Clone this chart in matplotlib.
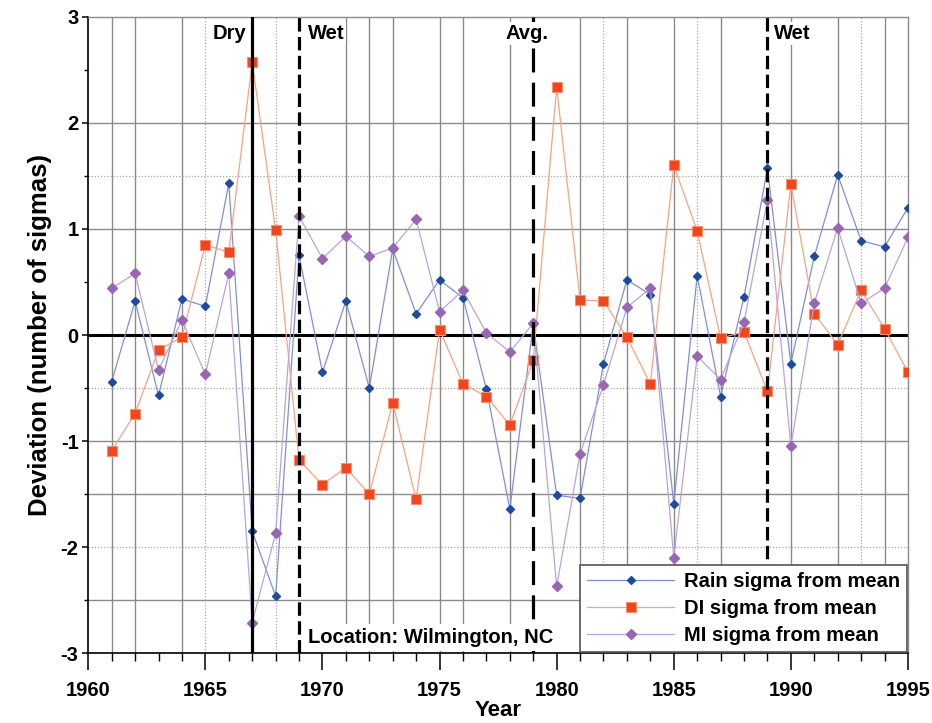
import matplotlib
matplotlib.use("Agg")
import matplotlib.pyplot as plt
import numpy as np

plt.rcParams['font.family'] = ['Liberation Sans', 'DejaVu Sans']
plt.rcParams['font.weight'] = 'bold'
plt.rcParams['axes.unicode_minus'] = False

years = list(range(1961, 1996))
rain = [-0.44, 0.32, -0.57, 0.34, 0.27, 1.43, -1.85, -2.46, 0.75, -0.35,
        0.32, -0.50, 0.81, 0.20, 0.52, 0.35, -0.51, -1.64, 0.10, -1.51,
        -1.54, -0.27, 0.52, 0.38, -1.59, 0.56, -0.58, 0.36, 1.57, -0.27,
        0.74, 1.51, 0.89, 0.83, 1.20]
di = [-1.09, -0.74, -0.14, -0.02, 0.85, 0.78, 2.57, 0.99, -1.18, -1.41,
      -1.25, -1.50, -0.64, -1.55, 0.05, -0.46, -0.58, -0.85, -0.24, 2.34,
      0.33, 0.32, -0.02, -0.46, 1.60, 0.98, -0.03, 0.03, -0.53, 1.42,
      0.20, -0.09, 0.42, 0.06, -0.35]
mi = [0.44, 0.58, -0.33, 0.14, -0.37, 0.58, -2.71, -1.87, 1.12, 0.72,
      0.93, 0.74, 0.82, 1.09, 0.22, 0.42, 0.02, -0.16, 0.11, -2.37,
      -1.12, -0.47, 0.26, 0.44, -2.10, -0.20, -0.42, 0.12, 1.27, -1.05,
      0.30, 1.01, 0.30, 0.44, 0.92]
series_labels = ["Rain sigma from mean", "DI sigma from mean", "MI sigma from mean"]

solid_vgrid = [1961, 1962, 1964, 1971, 1972, 1973, 1975, 1976, 1978, 1981,
               1983, 1985, 1987, 1990, 1992, 1994]
dotted_vgrid = [1965, 1968, 1982, 1986, 1993]
solid_hgrid = [2, 1, -1, -1.5, -2.5]
dotted_hgrid = [1.5, -0.5, -2]

dry_year = 1967
wet_years = [1969, 1989]
avg_year = 1979

FS = 14.5

fig = plt.figure(figsize=(9.32, 7.23), dpi=100)
ax = fig.add_axes([0.0947, 0.0964, 0.8795, 0.8805])
ax.set_xlim(1960, 1995)
ax.set_ylim(-3, 3)

grid_col = '#8a8a8a'
for yv in solid_hgrid:
    ax.axhline(yv, color=grid_col, lw=1.0, zorder=1)
for yv in dotted_hgrid:
    ax.axhline(yv, color='#a8a8a8', lw=0.9, ls=(0, (1, 1.5)), zorder=1)
for xv in solid_vgrid:
    ax.axvline(xv, color=grid_col, lw=1.0, zorder=1)
for xv in dotted_vgrid:
    ax.axvline(xv, color='#a8a8a8', lw=0.9, ls=(0, (1, 1.5)), zorder=1)

ax.axhline(0, color='black', lw=2.2, zorder=2)

l1, = ax.plot(years, rain, color='#7f8fd8', lw=0.9, marker='D', ms=4.4,
              mfc='#1d4c9e', mec='#1d4c9e', zorder=3, label=series_labels[0])
l2, = ax.plot(years, di, color='#f9a27f', lw=0.9, marker='s', ms=6.6,
              mfc='#f2441d', mec='#f8906a', mew=0.8, zorder=3, label=series_labels[1])
l3, = ax.plot(years, mi, color='#bba3da', lw=0.9, marker='D', ms=4.9,
              mfc='#9966b4', mec='#9966b4', zorder=3, label=series_labels[2])

ax.axvline(dry_year, color='black', lw=2.3, zorder=4)
for wy in wet_years:
    ax.axvline(wy, color='black', lw=2.3, ls=(0, (4.2, 1.7)), zorder=4)
ax.axvline(avg_year, color='black', lw=2.3, ls=(0, (7.5, 3.2)), zorder=4)

tb = dict(facecolor='white', edgecolor='none', pad=1.5)
ax.annotate("Dry", xy=(dry_year, 1), xycoords=('data', 'axes fraction'),
            xytext=(-4.5, -5.5), textcoords='offset points', ha='right', va='top',
            fontsize=FS, fontweight='bold', zorder=5)
for wy, dx in zip(wet_years, [6.3, 4.5]):
    ax.annotate("Wet", xy=(wy, 1), xycoords=('data', 'axes fraction'),
                xytext=(dx, -5.5), textcoords='offset points', ha='left', va='top',
                fontsize=FS, fontweight='bold', bbox=tb, zorder=5)
ax.annotate("Avg.", xy=(avg_year, 1), xycoords=('data', 'axes fraction'),
            xytext=(-4.5, -5.5), textcoords='offset points', ha='center', va='top',
            fontsize=FS, fontweight='bold', bbox=tb, zorder=5)
ax.annotate("Location: Wilmington, NC", xy=(wet_years[0], 0), xycoords=('data', 'axes fraction'),
            xytext=(6.3, 7.4), textcoords='offset points', ha='left', va='baseline',
            fontsize=FS, fontweight='bold',
            bbox=dict(facecolor='white', edgecolor='none', pad=3), zorder=5)

ax.set_xticks(range(1960, 1996, 5))
ax.set_xticks(range(1960, 1996), minor=True)
ax.set_yticks(range(-3, 4))
ax.set_yticks(np.arange(-3, 3.01, 0.5), minor=True)
ax.tick_params(axis='x', which='major', direction='out', length=12, width=1.1, pad=8, labelsize=FS)
ax.tick_params(axis='x', which='minor', direction='out', length=6, width=1.0)
ax.tick_params(axis='y', which='major', direction='out', length=4, width=1.1, pad=3, labelsize=FS)
ax.tick_params(axis='y', which='minor', direction='out', length=3, width=1.0)
for lab in ax.get_xticklabels() + ax.get_yticklabels():
    lab.set_fontweight('bold')

for s in ['left', 'bottom']:
    ax.spines[s].set_color('black')
    ax.spines[s].set_linewidth(1.2)
for s in ['top', 'right']:
    ax.spines[s].set_color('#8a8a8a')
    ax.spines[s].set_linewidth(1.0)

ax.set_xlabel("Year", fontsize=16, fontweight='bold', labelpad=0)
ax.set_ylabel("Deviation (number of sigmas)", fontsize=18.5, fontweight='bold', labelpad=6)

leg = ax.legend(handles=[l1, l2, l3], loc='lower right', bbox_to_anchor=(0.999, 0.002),
                borderaxespad=0, fancybox=False, framealpha=1, edgecolor='#555555',
                prop={'weight': 'bold', 'size': FS}, handlelength=4.3, handletextpad=0.5,
                labelspacing=0.4, borderpad=0.35)
leg.get_frame().set_linewidth(1.2)
leg.set_zorder(6)

fig.savefig("out.png", dpi=100)
